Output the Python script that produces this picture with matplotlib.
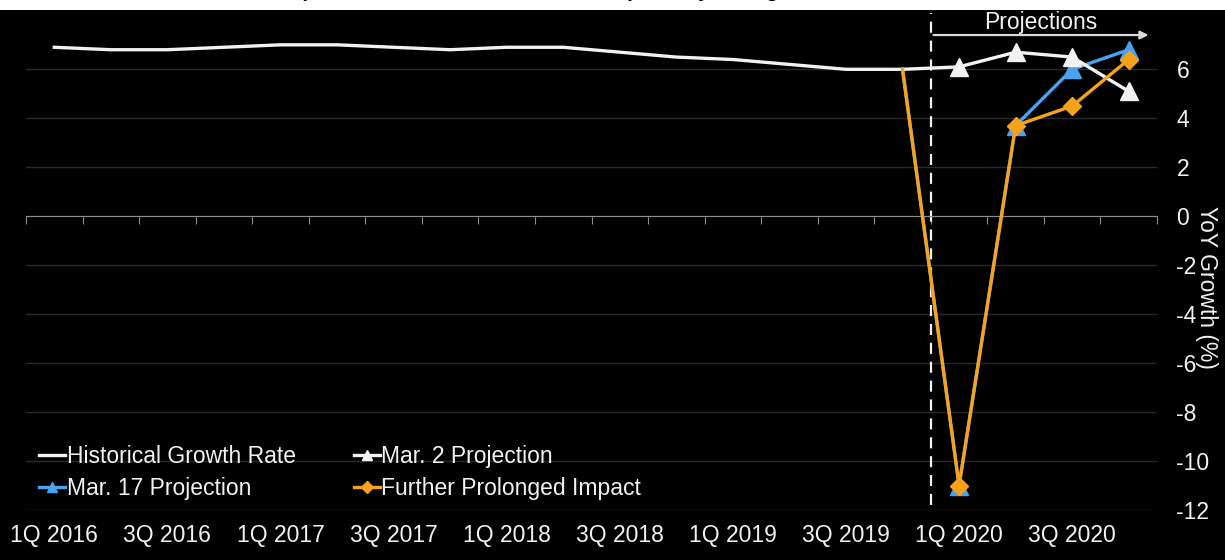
import numpy as np
import matplotlib.pyplot as plt
from matplotlib.patches import Rectangle

plt.rcParams['font.family'] = ['Liberation Sans', 'DejaVu Sans']
plt.rcParams['axes.unicode_minus'] = False

# quarters 1Q 2016 .. 4Q 2020
quarters = [f'{q}Q {y}' for y in range(2016, 2021) for q in range(1, 5)]
historical = [6.9, 6.8, 6.8, 6.9, 7.0, 7.0, 6.9, 6.8,
              6.9, 6.9, 6.7, 6.5, 6.4, 6.2, 6.0, 6.0]
# projections start from the last historical quarter (4Q 2019)
mar2 = [6.0, 6.1, 6.7, 6.5, 5.1]
mar17 = [6.0, -11.0, 3.7, 6.0, 6.8]
prolonged = [6.0, -11.0, 3.7, 4.5, 6.4]

WHITE = '#f2f2f2'
BLUE = '#4ba3f0'
ORANGE = '#f7a21b'
FS = 16.5

x = np.arange(len(quarters))
n_hist = len(historical)
x_hist = x[:n_hist]
x_proj = x[n_hist - 1:]

fig = plt.figure(figsize=(12.25, 5.6), dpi=100, facecolor='black')
# white strip with the cut-off title at the very top
fig.patches.append(Rectangle((0, 1 - 10 / 560), 1, 10 / 560, transform=fig.transFigure,
                             facecolor='white', edgecolor='none', zorder=0))
fig.text(0.5, 1 + 3 / 560, "Impact of the outbreak on China's quarterly GDP growth, 2016-2020",
         ha='center', va='baseline', fontsize=15, color='black', fontweight='bold')

ax = fig.add_axes([26 / 1225, 1 - 510 / 560, (1157 - 26) / 1225, (510 - 13) / 560])
ax.set_facecolor('black')
ax.set_xlim(-0.5, len(quarters) - 0.5)
ax.set_ylim(-12, 8.3)

# gridlines
ax.set_yticks(np.arange(-12, 7, 2))
ax.yaxis.grid(True, color='#2a2a2a', lw=1)
ax.set_axisbelow(True)

# x axis line sits at zero, with ticks at category boundaries
for s in ['top', 'left', 'right']:
    ax.spines[s].set_visible(False)
ax.spines['bottom'].set_position(('data', 0))
ax.spines['bottom'].set_color('#8c8c8c')
ax.set_xticks(np.arange(-0.5, len(quarters), 1))
ax.tick_params(axis='x', length=6, color='#8c8c8c', labelbottom=False)

# category labels at the bottom
sec = ax.secondary_xaxis('bottom')
sec.set_xticks(x[::2])
sec.set_xticklabels(quarters[::2])
sec.tick_params(length=0, colors=WHITE, labelsize=FS, pad=10)
sec.spines['bottom'].set_visible(False)

ax.yaxis.tick_right()
ax.tick_params(axis='y', length=0, colors=WHITE, labelsize=FS, pad=14)
ax.set_ylabel('YoY Growth (%)', color=WHITE, fontsize=FS, rotation=-90, va='center')
ax.yaxis.set_label_position('right')
ax.yaxis.set_label_coords(1.054, 0.447)

ax.plot(x_hist, historical, color=WHITE, lw=2.4, solid_joinstyle='round',
        label='Historical Growth Rate', zorder=3)
ax.plot(x_proj, mar17, color=BLUE, lw=2.4, marker='^', ms=13,
        markevery=list(range(1, len(mar17))), label='Mar. 17 Projection', zorder=4)
ax.plot(x_proj, mar2, color=WHITE, lw=2.4, marker='^', ms=13,
        markevery=list(range(1, len(mar2))), label='Mar. 2 Projection', zorder=5)
ax.plot(x_proj, prolonged, color=ORANGE, lw=2.4, marker='D', ms=9.5,
        markevery=list(range(1, len(prolonged))), label='Further Prolonged Impact', zorder=6)

# projection boundary
ax.axvline(n_hist - 0.5, ymin=0.01, ymax=1.0, color=WHITE, lw=1.6, ls=(0, (5, 3.5)), zorder=2)
ax.annotate('', xy=(len(quarters) - 0.6, 7.4), xytext=(n_hist - 0.5, 7.4),
            arrowprops=dict(arrowstyle='-|>', color='#d9d9d9', lw=1.6, mutation_scale=12))
ax.text((n_hist - 0.5 + len(quarters) - 0.6) / 2, 7.45, 'Projections', color=WHITE,
        fontsize=FS, ha='center', va='bottom')

ax.legend(ncol=2, loc='upper left', bbox_to_anchor=(0.0115, 0.131), frameon=False,
          fontsize=FS, labelcolor=WHITE, handlelength=1.15, handletextpad=0.05,
          columnspacing=2.55, markerscale=0.6, labelspacing=0.4, borderaxespad=0,
          borderpad=0)

fig.savefig('out.png', dpi=100, facecolor=fig.get_facecolor())
